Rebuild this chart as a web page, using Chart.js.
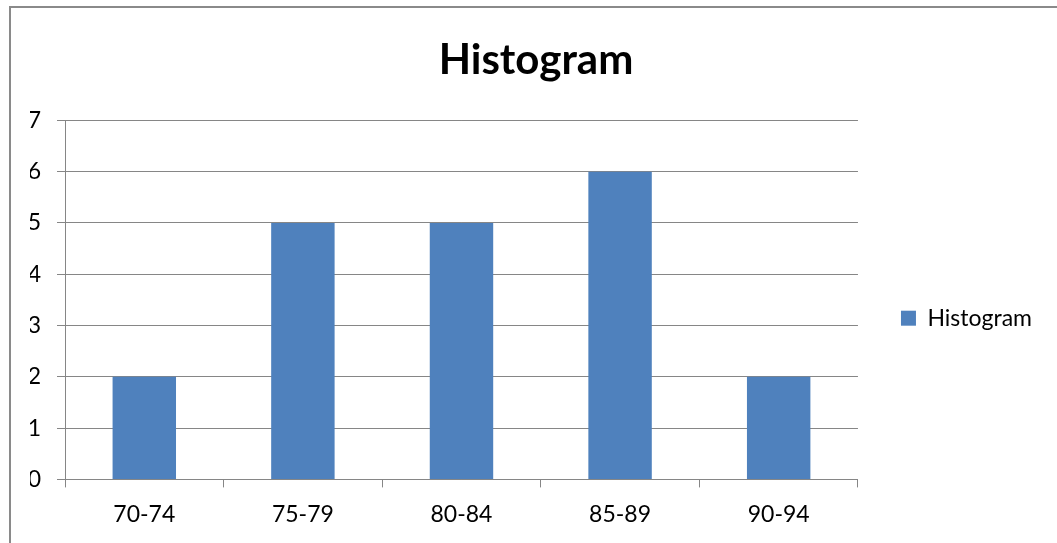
<!DOCTYPE html>
<html>
<head>
<meta charset="utf-8">
<script src="https://cdn.jsdelivr.net/npm/chart.js@4"></script>
<style>
  html, body { margin: 0; padding: 0; background: #fff; overflow: hidden; width: 1057px; height: 543px; }
  #frame { position: absolute; left: 9px; top: 6px; width: 1200px; height: 700px; border-left: 2px solid #8a8a8a; border-top: 2px solid #8a8a8a; }
  #histChart { position: absolute; left: 10px; top: 7px; }
</style>
</head>
<body>
<div id="frame"></div>
<canvas id="histChart" width="1052" height="536"></canvas>
<script>
const binLabels = ["70-74", "75-79", "80-84", "85-89", "90-94"];
const binCounts = [2, 5, 5, 6, 2];
const seriesName = "Histogram";
const chartTitle = "Histogram";

const gridGray = "#868686";
const barBlue = "#4F81BD";
const fontFamily = "Lato, 'Liberation Sans', sans-serif";

const ctx = document.getElementById("histChart").getContext("2d");

new Chart(ctx, {
  type: "bar",
  data: {
    labels: binLabels,
    datasets: [{
      label: seriesName,
      data: binCounts,
      backgroundColor: barBlue,
      borderWidth: 0,
      barPercentage: 0.4,
      categoryPercentage: 1.0
    }]
  },
  options: {
    responsive: false,
    animation: false,
    layout: { padding: { left: 20, right: 20, top: 0, bottom: 2 } },
    plugins: {
      title: {
        display: true,
        text: chartTitle,
        color: "#000",
        font: { family: fontFamily, size: 42, weight: "bold", lineHeight: 1.2 },
        padding: { top: 28, bottom: 35 }
      },
      legend: {
        display: true,
        position: "right",
        title: { display: true, text: " ", font: { size: 12, lineHeight: 1.2 }, padding: { top: 74, bottom: 0 } },
        labels: {
          boxWidth: 15,
          boxHeight: 15,
          padding: 43,
          color: "#000",
          font: { family: fontFamily, size: 23 }
        }
      },
      tooltip: { enabled: false }
    },
    scales: {
      x: {
        grid: { display: true, drawOnChartArea: false, drawTicks: true, tickLength: 8, color: gridGray, offset: true },
        border: { display: true, color: gridGray },
        ticks: { color: "#000", padding: 13, font: { family: fontFamily, size: 23 } }
      },
      y: {
        min: 0,
        max: 7,
        afterFit: (scale) => { scale.width = 35; },
        grid: { color: gridGray, tickLength: 8 },
        border: { display: true, color: gridGray },
        ticks: { stepSize: 1, color: "#000", padding: 16, font: { family: fontFamily, size: 23 } }
      }
    }
  }
});
</script>
</body>
</html>
